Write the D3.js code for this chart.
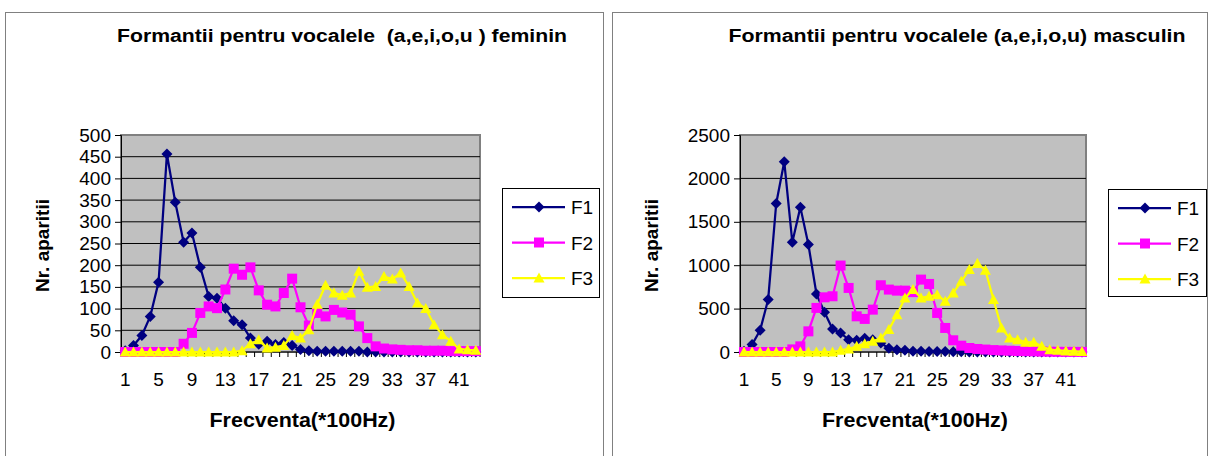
<!DOCTYPE html>
<html>
<head>
<meta charset="utf-8">
<script src="https://cdn.jsdelivr.net/npm/d3@7/dist/d3.min.js"></script>
<style>
  html, body { margin: 0; padding: 0; background: #ffffff; }
  svg { display: block; font-family: Arial, "Liberation Sans", sans-serif; }
</style>
</head>
<body>
<svg id="chart" width="1209" height="456"></svg>
<script>
// Frequency bins (x100 Hz)
const categories = [1,2,3,4,5,6,7,8,9,10,11,12,13,14,15,16,17,18,19,20,21,22,23,24,25,26,27,28,29,30,31,32,33,34,35,36,37,38,39,40,41,42,43];
const xTickLabels = [1,5,9,13,17,21,25,29,33,37,41];
const seriesNames = ["F1", "F2", "F3"];

// Female speakers: number of occurrences per bin
const femF1 = [3,15,38,82,161,456,345,253,274,195,128,124,101,72,63,32,18,25,17,22,15,6,3,2,2,2,2,2,2,0,0,0,0,0,0,0,0,0,0,0,0,0,0];
const femF2 = [0,0,0,0,0,0,0,19,44,90,105,101,144,192,178,195,142,109,105,136,169,103,61,90,82,97,91,86,59,32,13,8,6,5,4,4,3,3,3,2,2,2,2];
const femF3 = [0,0,0,0,0,0,0,0,0,0,0,0,0,0,3,19,28,9,11,15,38,32,51,110,154,136,131,136,186,149,151,174,168,182,151,113,100,63,40,25,7,5,4];
const femTicks = [0,50,100,150,200,250,300,350,400,450,500];

// Male speakers: number of occurrences per bin
const masF1 = [10,85,250,604,1711,2192,1265,1669,1238,669,458,265,219,142,135,158,142,104,42,27,19,10,8,6,5,5,4,3,0,0,0,0,0,0,0,0,0,0,0,0,0,0,0];
const masF2 = [0,0,0,0,0,0,30,65,238,508,630,642,996,738,411,381,488,769,719,707,707,690,834,784,450,277,135,73,46,35,28,22,18,15,12,10,8,5,3,2,1,1,1];
const masF3 = [0,0,0,0,0,0,0,0,0,0,0,0,20,35,65,96,123,160,258,430,623,719,623,642,661,584,680,815,950,1019,942,604,277,161,142,111,111,65,27,20,12,8,5];
const masTicks = [0,500,1000,1500,2000,2500];

const colors = ["#000080", "#FF00FF", "#FFFF00"];
const markerPaths = [
  "M0,-5.5L5.5,0L0,5.5L-5.5,0Z",  // diamond
  "M-5,-5H5V5H-5Z",               // square
  "M0,-5.5L5.5,4.5L-5.5,4.5Z"     // triangle
];

const panels = [
  {
    title: "Formantii pentru vocalele  (a,e,i,o,u ) feminin",
    frame: [5.5, 12.5, 598, 470],
    plot: { x0: 121, x1: 480, y0: 135, y1: 352 },
    titleX: 342, titleW: 450,
    series: [femF1, femF2, femF3],
    ticks: femTicks,
    yTitleX: 43,
    legend: { x: 502, y: 188, w: 97, h: 109 }
  },
  {
    title: "Formantii pentru vocalele (a,e,i,o,u) masculin",
    frame: [612.5, 12.5, 595, 470],
    plot: { x0: 740, x1: 1086, y0: 135, y1: 352 },
    titleX: 957, titleW: 457,
    series: [masF1, masF2, masF3],
    ticks: masTicks,
    yTitleX: 652,
    legend: { x: 1108, y: 189, w: 98, h: 107 }
  }
];

const svg = d3.select("#chart");

panels.forEach(p => {
  const g = svg.append("g");

  // chart frame
  g.append("rect")
    .attr("x", p.frame[0]).attr("y", p.frame[1])
    .attr("width", p.frame[2]).attr("height", p.frame[3])
    .attr("fill", "#ffffff").attr("stroke", "#808080").attr("stroke-width", 1);

  // title
  g.append("text")
    .attr("x", p.titleX).attr("y", 42)
    .attr("text-anchor", "middle")
    .attr("font-weight", "bold").attr("font-size", 18)
    .attr("textLength", p.titleW).attr("lengthAdjust", "spacingAndGlyphs")
    .style("white-space", "pre")
    .text(p.title);

  const { x0, x1, y0, y1 } = p.plot;
  const x = d3.scaleBand().domain(categories).range([x0, x1]).paddingInner(0).paddingOuter(0);
  const bw = x.bandwidth();
  const cx = c => x(c) + bw / 2;
  const y = d3.scaleLinear().domain([p.ticks[0], p.ticks[p.ticks.length - 1]]).range([y1, y0]);

  // plot area
  g.append("rect")
    .attr("x", x0).attr("y", y0).attr("width", x1 - x0).attr("height", y1 - y0)
    .attr("fill", "#C0C0C0").attr("stroke", "#808080").attr("stroke-width", 2);

  // gridlines
  g.append("g").selectAll("line")
    .data(p.ticks.slice(1, -1))
    .join("line")
    .attr("x1", x0).attr("x2", x1)
    .attr("y1", d => y(d)).attr("y2", d => y(d))
    .attr("stroke", "#000000").attr("stroke-width", 1);

  // y axis
  const yAxis = g.append("g")
    .attr("transform", `translate(${x0},0)`)
    .call(d3.axisLeft(y).tickValues(p.ticks).tickSize(6).tickPadding(4).tickFormat(d3.format("d")));
  yAxis.select(".domain").attr("stroke", "#000000").attr("stroke-width", 1);
  yAxis.selectAll(".tick line").attr("stroke", "#000000");
  yAxis.selectAll("text").attr("font-size", 19).attr("font-family", "Arial, 'Liberation Sans', sans-serif").attr("fill", "#000");

  // x axis: baseline, ticks at bin boundaries, labels every 4 bins
  g.append("line")
    .attr("x1", x0).attr("x2", x1).attr("y1", y1).attr("y2", y1)
    .attr("stroke", "#000000").attr("stroke-width", 1);
  g.append("g").selectAll("line")
    .data(categories.concat([null]))
    .join("line")
    .attr("x1", d => d === null ? x1 : x(d))
    .attr("x2", d => d === null ? x1 : x(d))
    .attr("y1", y1).attr("y2", y1 + 5)
    .attr("stroke", "#000000").attr("stroke-width", 1);
  g.append("g").selectAll("text")
    .data(xTickLabels)
    .join("text")
    .attr("x", d => cx(d)).attr("y", y1 + 34)
    .attr("text-anchor", "middle").attr("font-size", 19)
    .text(d => d);

  // axis titles
  g.append("text")
    .attr("x", (x0 + x1) / 2 + 2).attr("y", 427)
    .attr("text-anchor", "middle").attr("font-weight", "bold").attr("font-size", 20)
    .attr("textLength", 186).attr("lengthAdjust", "spacingAndGlyphs")
    .text("Frecventa(*100Hz)");
  g.append("text")
    .attr("transform", `translate(${p.yTitleX + 6},${(y0 + y1) / 2 + 2}) rotate(-90)`)
    .attr("text-anchor", "middle").attr("font-weight", "bold").attr("font-size", 19)
    .text("Nr. aparitii");

  // series lines and markers
  p.series.forEach((vals, i) => {
    const line = d3.line().x((d, k) => cx(categories[k])).y(d => y(d));
    g.append("path")
      .attr("d", line(vals))
      .attr("fill", "none").attr("stroke", colors[i]).attr("stroke-width", 2.25)
      .attr("stroke-linejoin", "round");
    g.append("g").selectAll("path")
      .data(vals)
      .join("path")
      .attr("d", markerPaths[i])
      .attr("transform", (d, k) => `translate(${cx(categories[k])},${y(d)})`)
      .attr("fill", colors[i]);
  });

  // legend
  const L = p.legend;
  const lg = g.append("g");
  lg.append("rect")
    .attr("x", L.x + 0.5).attr("y", L.y + 0.5).attr("width", L.w).attr("height", L.h)
    .attr("fill", "#ffffff").attr("stroke", "#000000").attr("stroke-width", 1);
  seriesNames.forEach((name, i) => {
    const ly = L.y + 19 + i * 35.5;
    lg.append("line")
      .attr("x1", L.x + 10).attr("x2", L.x + 63)
      .attr("y1", ly).attr("y2", ly)
      .attr("stroke", colors[i]).attr("stroke-width", 2.25);
    lg.append("path")
      .attr("d", markerPaths[i])
      .attr("transform", `translate(${L.x + 37},${ly})`)
      .attr("fill", colors[i]);
    lg.append("text")
      .attr("x", L.x + 69).attr("y", ly + 7)
      .attr("font-size", 19)
      .text(name);
  });
});
</script>
</body>
</html>
